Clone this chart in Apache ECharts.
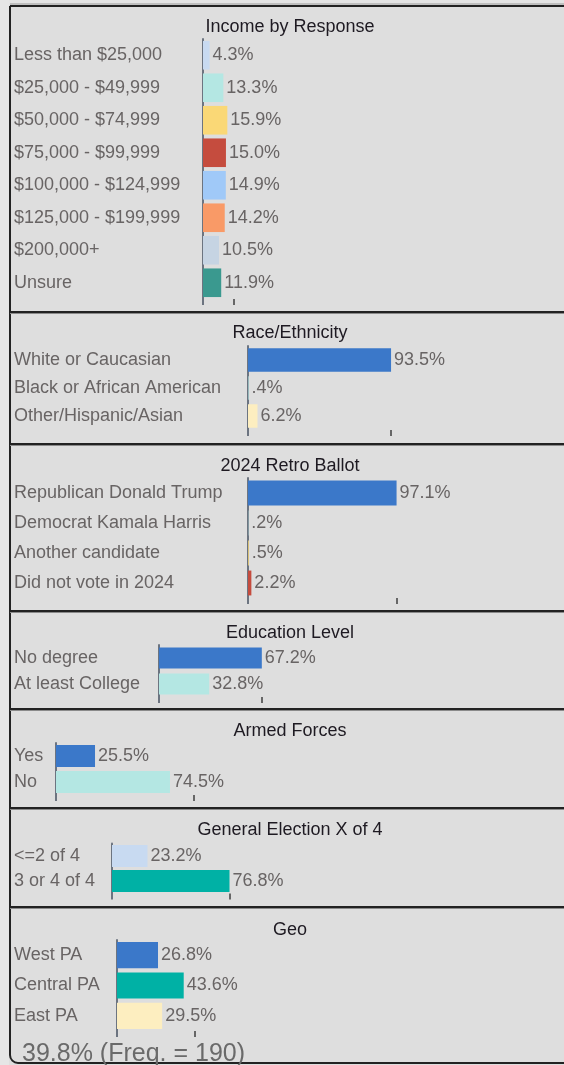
<!DOCTYPE html>
<html><head><meta charset="utf-8">
<script src="https://cdn.jsdelivr.net/npm/echarts@6/dist/echarts.min.js"></script>
<style>html,body{margin:0;padding:0;background:#dedede;overflow:hidden}#c{width:564px;height:1065px;}</style>
</head><body><div id="c"></div>
<script>
// ---------- DATA ----------
const panelTitles = ['Income by Response','Race/Ethnicity','2024 Retro Ballot','Education Level','Armed Forces','General Election X of 4','Geo'];
const incomeCats = ['Less than $25,000','$25,000 - $49,999','$50,000 - $74,999','$75,000 - $99,999','$100,000 - $124,999','$125,000 - $199,999','$200,000+','Unsure'];
const incomeVals = [4.3,13.3,15.9,15.0,14.9,14.2,10.5,11.9];
const raceCats = ['White or Caucasian','Black or African American','Other/Hispanic/Asian'];
const raceVals = [93.5,0.4,6.2];
const ballotCats = ['Republican Donald Trump','Democrat Kamala Harris','Another candidate','Did not vote in 2024'];
const ballotVals = [97.1,0.2,0.5,2.2];
const eduCats = ['No degree','At least College'];
const eduVals = [67.2,32.8];
const armedCats = ['Yes','No'];
const armedVals = [25.5,74.5];
const genCats = ['<=2 of 4','3 or 4 of 4'];
const genVals = [23.2,76.8];
const geoCats = ['West PA','Central PA','East PA'];
const geoVals = [26.8,43.6,29.5];
const axisTickValues = [20,93.5,97.1,67.2,90,76.8,51];
const footerText = '39.8% (Freq. = 190)';

// ---------- STYLE ----------
const C = {blue:'#3b78c9', paleCyan:'#b4e7e3', yellow:'#fad876', red:'#c54c3e', lightBlue:'#a0c9f8',
  orange:'#f99a67', greyBlue:'#c6d4e3', darkTeal:'#3a998f', teal:'#00b1a5', paleBlue:'#c8daf1', paleYellow:'#fdeec0'};
const panelColors = [
  [C.paleBlue,C.paleCyan,C.yellow,C.red,C.lightBlue,C.orange,C.greyBlue,C.darkTeal],
  [C.blue,C.paleCyan,C.paleYellow],
  [C.blue,C.paleCyan,C.yellow,C.red],
  [C.blue,C.paleCyan],
  [C.blue,C.paleCyan],
  [C.paleBlue,C.teal],
  [C.blue,C.teal,C.paleYellow]
];
const layout = [
  {axisX:203, top:39, bottom:299, titleY:27, gap:'12%'},
  {axisX:248, top:346, bottom:430, titleY:333, gap:'16%'},
  {axisX:248, top:478, bottom:598, titleY:466, gap:'17%'},
  {axisX:159, top:645, bottom:697, titleY:633, gap:'19%'},
  {axisX:56, top:743, bottom:795, titleY:731, gap:'15%'},
  {axisX:112, top:843.5, bottom:893.5, titleY:830, gap:'12%'},
  {axisX:117, top:940, bottom:1031, titleY:930, gap:'14%'}
];
const separators = [312,444,611,709,808,907];
const PX_PER_PCT = 1.53;
const FONT = '"Liberation Sans", Arial, sans-serif';
const FS = 18;
const labelColor = '#686464';

const panels = [
  [incomeCats,incomeVals],[raceCats,raceVals],[ballotCats,ballotVals],[eduCats,eduVals],
  [armedCats,armedVals],[genCats,genVals],[geoCats,geoVals]
];

function fmt(v){ let s = v.toFixed(1); if (v < 1) s = s.replace(/^0/,''); return s + '%'; }

const grid=[], xAxis=[], yAxis=[], series=[], graphic=[];
graphic.push({type:'rect', shape:{x:0,y:0,width:564,height:5}, style:{fill:'#e4e4e4'}, silent:true});
graphic.push({type:'rect', shape:{x:0,y:0,width:9,height:1065}, style:{fill:'#e6e6e6'}, silent:true});
graphic.push({type:'rect', shape:{x:10,y:6,width:620,height:1057,r:[0,0,0,8]}, style:{fill:'none',stroke:'#222',lineWidth:2}, silent:true});
graphic.push({type:'line', shape:{x1:10,y1:4,x2:564,y2:4}, style:{stroke:'#9a9a9a',lineWidth:1}, silent:true});
separators.forEach(y=>{
  graphic.push({type:'line', shape:{x1:10,y1:y,x2:564,y2:y}, style:{stroke:'#222',lineWidth:2}, silent:true});
  graphic.push({type:'line', shape:{x1:10,y1:y+1.5,x2:564,y2:y+1.5}, style:{stroke:'#8a8a8a',lineWidth:1}, silent:true});
});

panels.forEach(([cats,vals],i)=>{
  const L = layout[i];
  grid.push({left:L.axisX, top:L.top, width:100*PX_PER_PCT, height:L.bottom-L.top, containLabel:false});
  xAxis.push({type:'value', gridIndex:i, min:0, max:100,
    axisLine:{show:false}, axisLabel:{show:false}, splitLine:{show:false},
    axisTick:{show:true, customValues:[axisTickValues[i]], inside:false, length:6, lineStyle:{color:'#666',width:2}}});
  yAxis.push({type:'category', gridIndex:i, inverse:true, data:cats,
    axisLine:{show:true, symbol:['rect','none'], symbolSize:[2,12], lineStyle:{color:'#6c7480',width:2}},
    axisTick:{show:false},
    axisLabel:{align:'left', margin:L.axisX-14, fontSize:FS, fontFamily:FONT, color:labelColor}});
  series.push({type:'bar', xAxisIndex:i, yAxisIndex:i, barCategoryGap:L.gap,
    data: vals.map((v,j)=>({value:v, itemStyle:{color:panelColors[i][j]}})),
    label:{show:true, position:'right', distance:3, fontSize:FS, fontFamily:FONT, color:labelColor,
      formatter:p=>fmt(p.value)}});
  graphic.push({type:'text', x:290, y:L.titleY, style:{text:panelTitles[i], font:FS+'px '+FONT, fill:'#1e1a22', textAlign:'center', textVerticalAlign:'middle'}, silent:true});
});
graphic.push({type:'text', x:22, y:1054, style:{text:footerText, font:'25px '+FONT, fill:'#6a6a6a', textAlign:'left', textVerticalAlign:'middle'}, silent:true});

const chart = echarts.init(document.getElementById('c'), null, {renderer:'canvas'});
chart.setOption({backgroundColor:'#dedede', animation:false, grid, xAxis, yAxis, series, graphic});
</script></body></html>
